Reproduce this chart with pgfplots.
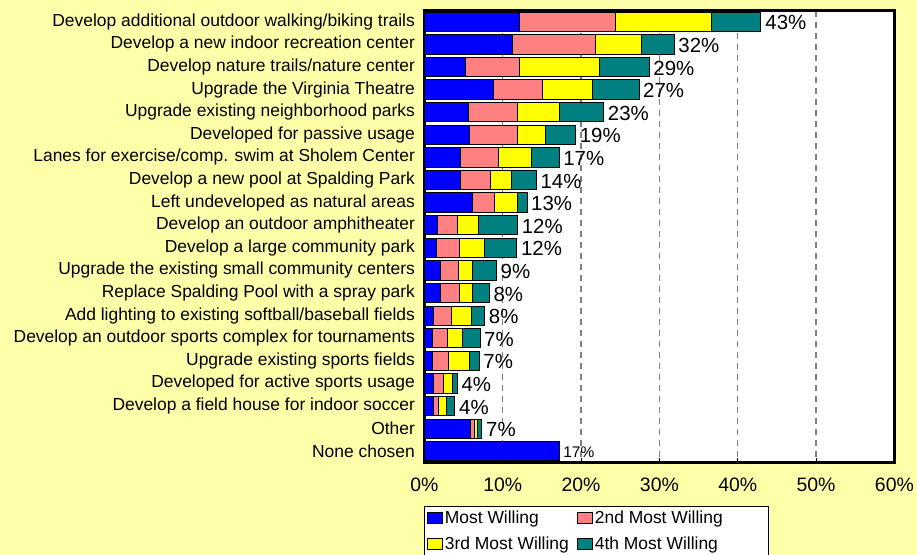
\documentclass[border=0pt]{standalone}
\usepackage{fontspec}
\setmainfont{Liberation Sans}
\usepackage{pgfplots}
\pgfplotsset{compat=1.18}
\definecolor{bgy}{HTML}{FFFFAA}
\definecolor{mwA}{HTML}{0000FF}
\definecolor{mwB}{HTML}{FF8080}
\definecolor{mwC}{HTML}{FFFF00}
\definecolor{mwD}{HTML}{008080}
\newcommand{\smallpct}{\fontsize{15.5}{18}\selectfont}
\pgfplotsset{frame/.style={
  at={(424.4bp,92.5bp)}, anchor=south west,
  scale only axis, width=470bp, height=452bp,
  xmin=0, xmax=60, ymin=-0.5, ymax=19.5, y dir=reverse,
  enlargelimits=false}}
\begin{document}
\begin{tikzpicture}
\fill[bgy] (0,0) rectangle (917bp,555bp);
\useasboundingbox (0,0) rectangle (917bp,555bp);
\begin{axis}[
  frame,
  xbar stacked, bar width=0.85,
  clip=false,
  axis background/.style={fill=white},
  axis line style={line width=2.5bp, black},
  xtick={0,10,...,60},
  xticklabel={\pgfmathprintnumber{\tick}\%},
  /pgf/number format/assume math mode=true,
  xticklabel style={font=\fontsize{19.5}{22}\selectfont, yshift=-12bp},
  ytick={0,...,19},
  yticklabels={Develop additional outdoor walking/biking trails,
    Develop a new indoor recreation center,
    Develop nature trails/nature center,
    Upgrade the Virginia Theatre,
    Upgrade existing neighborhood parks,
    Developed for passive usage,
    Lanes for exercise/comp. swim at Sholem Center,
    Develop a new pool at Spalding Park,
    Left undeveloped as natural areas,
    Develop an outdoor amphitheater,
    Develop a large community park,
    Upgrade the existing small community centers,
    Replace Spalding Pool with a spray park,
    Add lighting to existing softball/baseball fields,
    Develop an outdoor sports complex for tournaments,
    Upgrade existing sports fields,
    Developed for active sports usage,
    Develop a field house for indoor soccer,
    Other,
    None chosen},
  yticklabel style={font=\fontsize{17.5}{20}\selectfont, xshift=-6bp},
  ytick style={draw=none},
  xtick style={black, line width=1bp},
  tick align=inside, major tick length=5bp,
  xtick pos=bottom,
  xmajorgrids,
  grid style={gray, line width=1.2bp, dash pattern=on 6bp off 5bp},
  legend columns=2,
  legend style={at={(axis description cs:0,-0.0956)}, anchor=north west,
    draw=black, line width=1bp, fill=white,
    font=\fontsize{17.5}{20}\selectfont,
    inner xsep=2bp, inner ysep=3bp,
    row sep=8bp,
    /tikz/every even column/.append style={column sep=0bp}},
  legend image code/.code={\draw[#1, line width=1bp, draw=black] (0bp,-5bp) rectangle (15bp,6bp);},
  legend cell align=left,
]
\addplot[fill=mwA, draw=black, line width=1bp] coordinates {
 (12.1,0) (11.3,1) (5.2,2) (8.8,3) (5.6,4) (5.8,5) (4.6,6) (4.6,7) (6.1,8) (1.7,9)
 (1.6,10) (2.1,11) (2.0,12) (1.1,13) (1.0,14) (1.0,15) (1.1,16) (1.1,17) (5.9,18) (17.2,19)};
\addplot[fill=mwB, draw=black, line width=1bp] coordinates {
 (12.3,0) (10.5,1) (6.9,2) (6.3,3) (6.3,4) (6.1,5) (4.9,6) (3.8,7) (2.9,8) (2.5,9)
 (2.9,10) (2.2,11) (2.5,12) (2.3,13) (1.9,14) (2.1,15) (1.4,16) (0.7,17) (0.55,18) (0,19)};
\addplot[fill=mwC, draw=black, line width=1bp] coordinates {
 (12.3,0) (5.9,1) (10.3,2) (6.4,3) (5.3,4) (3.6,5) (4.2,6) (2.7,7) (2.9,8) (2.7,9)
 (3.2,10) (1.9,11) (1.7,12) (2.6,13) (2.0,14) (2.6,15) (1.1,16) (1.0,17) (0.35,18) (0,19)};
\addplot[fill=mwD, draw=black, line width=1bp] coordinates {
 (6.2,0) (4.2,1) (6.3,2) (5.9,3) (5.7,4) (3.8,5) (3.5,6) (3.2,7) (1.2,8) (5.0,9)
 (4.1,10) (3.0,11) (2.1,12) (1.7,13) (2.2,14) (1.3,15) (0.6,16) (1.1,17) (0.55,18) (0,19)};
\legend{\makebox[130bp][l]{Most Willing}, \makebox[170bp][l]{2nd Most Willing}, 3rd Most Willing, 4th Most Willing}
\end{axis}
\begin{axis}[frame, hide axis, clip=false]
\addplot[only marks, mark=*, mark size=0pt, nodes near coords, point meta=explicit symbolic,
  nodes near coords style={font=\fontsize{20.5}{24}\selectfont, anchor=west, inner xsep=4bp, text=black, yshift=-1bp}]
 coordinates {
 (43.0,0)[43\%] (31.9,1)[32\%] (28.7,2)[29\%] (27.4,3)[27\%] (22.9,4)[23\%] (19.3,5)[19\%]
 (17.2,6)[17\%] (14.3,7)[14\%] (13.1,8)[13\%] (11.9,9)[12\%] (11.8,10)[12\%] (9.2,11)[9\%]
 (8.3,12)[8\%] (7.7,13)[8\%] (7.1,14)[7\%] (7.0,15)[7\%] (4.2,16)[4\%] (3.9,17)[4\%]
 (7.35,18)[7\%] (17.2,19)[\smallpct 17\%]};
\end{axis}
\end{tikzpicture}
\end{document}
